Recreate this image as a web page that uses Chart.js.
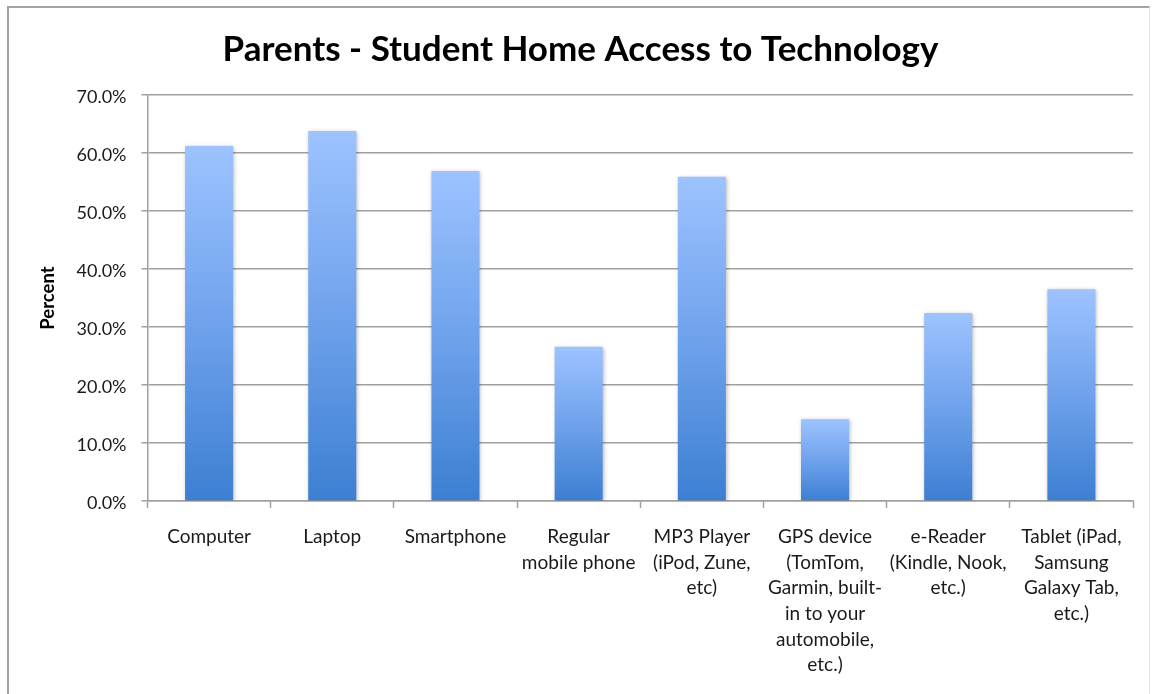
<!DOCTYPE html>
<html>
<head>
<meta charset="utf-8">
<title>Parents - Student Home Access to Technology</title>
<script src="https://cdn.jsdelivr.net/npm/chart.js@4/dist/chart.umd.min.js"></script>
<style>
  html, body { margin: 0; padding: 0; background: #ffffff; }
  #wrap { position: relative; width: 1155px; height: 694px; overflow: hidden; }
  #frame {
    position: absolute; left: 7px; top: 6px; width: 1143px; height: 720px;
    border-left: 2px solid #a3a3a3; border-top: 2px solid #a3a3a3; border-right: 1px solid #e4e4e4;
    box-sizing: border-box; pointer-events: none;
  }
  #chart { position: absolute; left: 0; top: 0; }
</style>
</head>
<body>
<div id="wrap">
  <div id="frame"></div>
  <canvas id="chart" width="1155" height="694"></canvas>
</div>
<script>
// Survey categories (multi-line labels as drawn under the axis)
const categories = [
  ['Computer'],
  ['Laptop'],
  ['Smartphone'],
  ['Regular', 'mobile phone'],
  ['MP3 Player', '(iPod, Zune,', 'etc)'],
  ['GPS device', '(TomTom,', 'Garmin, built-', 'in to your', 'automobile,', 'etc.)'],
  ['e-Reader', '(Kindle, Nook,', 'etc.)'],
  ['Tablet (iPad,', 'Samsung', 'Galaxy Tab,', 'etc.)']
];

// Percent of respondents with home access
const accessPercent = [61.2, 63.8, 56.9, 26.6, 55.9, 14.1, 32.4, 36.5];

// Value axis ticks
const yTicks = [0, 10, 20, 30, 40, 50, 60, 70];

const chartTitle = 'Parents - Student Home Access to Technology';
const yAxisTitle = 'Percent';

const FONT = 'Lato, "Open Sans", "DejaVu Sans", sans-serif';

// Vertical gradient per bar: light blue at the top, deeper blue at the base
function barGradient(c) {
  const chart = c.chart;
  const area = chart.chartArea;
  if (!area || c.raw === undefined) return '#6a9ee8';
  const y = chart.scales.y;
  const top = y.getPixelForValue(c.raw);
  const bottom = y.getPixelForValue(0);
  const g = chart.ctx.createLinearGradient(0, top, 0, bottom);
  g.addColorStop(0, '#9dc3ff');
  g.addColorStop(0.5, '#6fa2ec');
  g.addColorStop(1, '#3c7fd2');
  return g;
}

// Soft halo around the bars
const barShadow = {
  id: 'barShadow',
  beforeDatasetsDraw(chart) {
    const ctx = chart.ctx;
    ctx.save();
    ctx.shadowColor = 'rgba(0,0,0,0.28)';
    ctx.shadowBlur = 4;
    ctx.shadowOffsetX = 1;
    ctx.shadowOffsetY = 1;
  },
  afterDatasetsDraw(chart) {
    chart.ctx.restore();
  }
};

new Chart(document.getElementById('chart'), {
  type: 'bar',
  data: {
    labels: categories,
    datasets: [{
      label: yAxisTitle,
      data: accessPercent,
      backgroundColor: barGradient,
      borderWidth: 0,
      categoryPercentage: 1.0,
      barPercentage: 0.39
    }]
  },
  options: {
    responsive: false,
    animation: false,
    events: [],
    layout: { padding: { left: 28, right: 22, top: 0, bottom: 0 } },
    plugins: {
      legend: { display: false },
      tooltip: { enabled: false },
      title: {
        display: true,
        text: chartTitle,
        color: '#000000',
        font: { family: FONT, size: 35, weight: 'bold', lineHeight: 1.2 },
        padding: { top: 29, bottom: 24 }
      }
    },
    scales: {
      x: {
        grid: {
          display: true,
          drawOnChartArea: false,
          drawTicks: true,
          tickLength: 7,
          tickWidth: 1.5,
          tickColor: '#a0a0a0',
          offset: true
        },
        border: { display: true, color: '#a0a0a0', width: 1.5 },
        ticks: {
          autoSkip: false,
          maxRotation: 0,
          minRotation: 0,
          padding: 16,
          color: '#1a1a1a',
          font: { family: FONT, size: 19, lineHeight: 1.35 }
        },
        afterFit(scale) { scale.height = 193; }
      },
      y: {
        min: 0,
        max: 70,
        afterBuildTicks(scale) { scale.ticks = yTicks.map(v => ({ value: v })); },
        grid: {
          color: '#a0a0a0',
          lineWidth: 1.5,
          drawTicks: true,
          tickLength: 6,
          tickColor: '#a0a0a0'
        },
        border: { display: true, color: '#a0a0a0', width: 1.5 },
        ticks: {
          padding: 15,
          color: '#1a1a1a',
          labelOffset: 2,
          font: { family: FONT, size: 18 },
          callback: (v) => Number(v).toFixed(1) + '%'
        },
        title: {
          display: true,
          text: yAxisTitle,
          color: '#000000',
          font: { family: FONT, size: 18.5, weight: 'bold', lineHeight: 1.2 },
          padding: { top: 9, bottom: 0 }
        },
        afterFit(scale) { scale.width = 119.5; }
      }
    }
  },
  plugins: [barShadow]
});
</script>
</body>
</html>
